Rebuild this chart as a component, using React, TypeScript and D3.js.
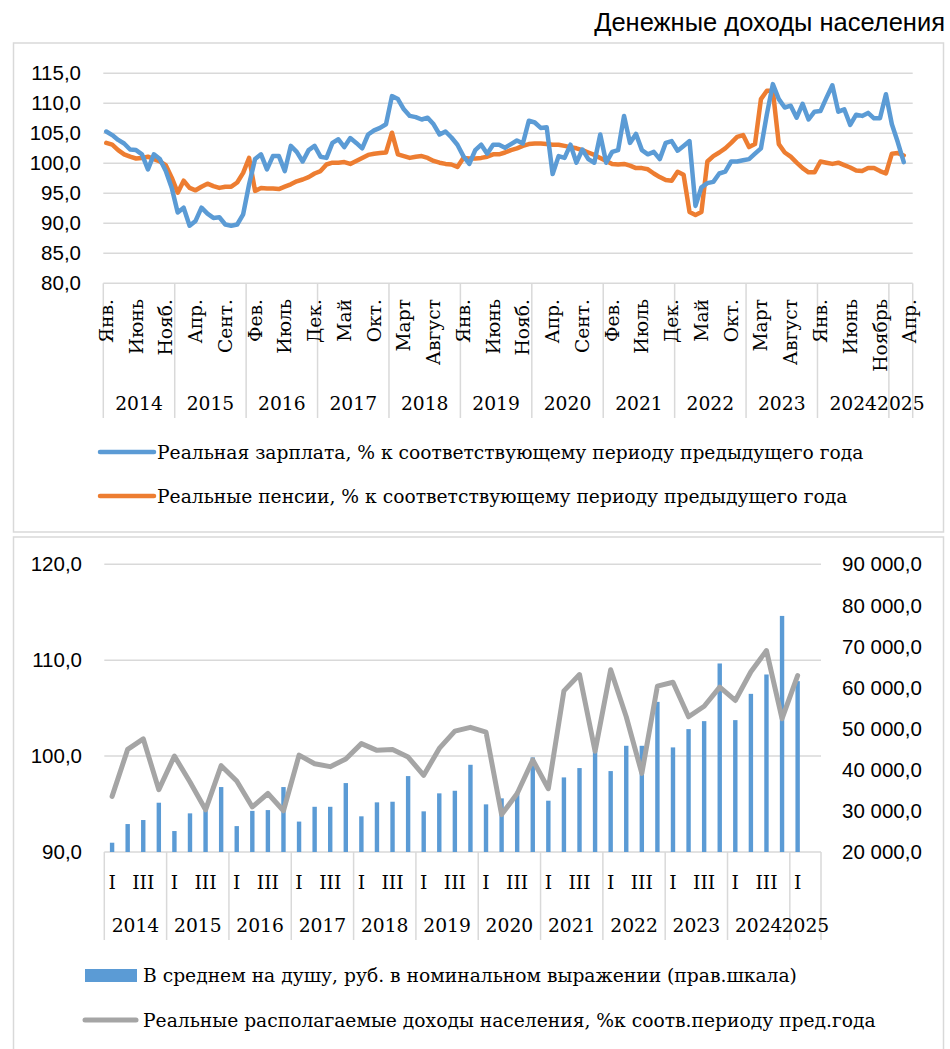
import React from 'react';
import * as d3 from 'd3';

// ---------- DATA ----------
const years = ['2014', '2015', '2016', '2017', '2018', '2019', '2020', '2021', '2022', '2023', '2024', '2025'];

// Monthly, Jan 2014 .. Mar 2025 (axis runs to Apr 2025)
const wage = [
  105.3, 104.7, 103.9, 103.3, 102.3, 102.2, 101.5, 99.0, 101.5, 100.7,
  98.7, 95.9, 91.8, 92.6, 89.6, 90.4, 92.6, 91.6, 90.9, 91.0,
  89.8, 89.6, 89.8, 91.5, 96.5, 100.7, 101.5, 99.0, 101.2, 101.2,
  98.7, 102.9, 101.9, 100.3, 102.2, 102.9, 101.1, 100.9, 103.4, 104.0,
  102.7, 104.2, 103.4, 102.5, 104.8, 105.5, 105.9, 106.5, 111.2, 110.7,
  109.0, 107.9, 107.7, 107.3, 107.6, 106.5, 104.8, 105.3, 104.3, 103.1,
  101.2, 99.9, 102.2, 103.1, 101.6, 103.1, 103.1, 102.6, 103.2, 103.8,
  103.3, 107.1, 106.8, 105.9, 106.0, 98.2, 101.2, 100.9, 103.1, 100.1,
  102.3, 100.7, 100.1, 104.8, 100.1, 101.9, 102.2, 107.9, 103.4, 104.9,
  102.2, 101.5, 101.9, 100.7, 103.4, 103.7, 102.1, 102.9, 103.7, 92.9,
  96.0, 96.7, 96.9, 98.3, 98.6, 100.3, 100.3, 100.5, 100.7, 101.6,
  102.5, 108.2, 113.2, 110.7, 109.3, 109.6, 107.6, 109.9, 107.3, 108.6,
  108.7, 110.9, 113.0, 108.6, 109.0, 106.4, 108.1, 107.9, 108.4, 107.5,
  107.5, 111.5, 106.5, 103.5, 100.2,
];

const pension = [
  103.4, 103.1, 102.2, 101.5, 101.1, 100.8, 100.9, 101.1, 100.7, 100.3,
  99.7, 97.6, 95.1, 97.1, 95.9, 95.5, 96.1, 96.6, 96.2, 95.9,
  96.1, 96.1, 96.8, 98.4, 100.9, 95.4, 95.9, 95.8, 95.8, 95.7,
  96.1, 96.5, 97.0, 97.3, 97.7, 98.3, 98.7, 99.8, 100.1, 100.1,
  100.2, 99.9, 100.4, 100.9, 101.4, 101.6, 101.7, 101.8, 105.1, 101.5,
  101.2, 100.9, 101.1, 101.2, 100.9, 100.4, 100.1, 99.9, 99.8, 99.4,
  100.9, 100.8, 100.8, 100.9, 101.1, 101.5, 101.5, 101.8, 102.2, 102.5,
  102.9, 103.2, 103.3, 103.3, 103.2, 103.1, 103.1, 102.9, 102.7, 102.5,
  102.2, 101.8, 101.4, 100.9, 100.4, 99.9, 99.8, 99.9, 99.6, 99.2,
  99.2, 99.0, 98.3, 97.7, 97.2, 97.1, 98.6, 98.1, 91.9, 91.4,
  91.9, 100.3, 101.2, 101.8, 102.5, 103.4, 104.4, 104.7, 102.7, 103.2,
  110.7, 112.1, 112.1, 103.2, 101.8, 101.1, 100.1, 99.2, 98.5, 98.5,
  100.3, 100.1, 99.9, 100.1, 99.7, 99.3, 98.8, 98.7, 99.2, 99.2,
  98.7, 98.3, 101.6, 101.7, 101.3,
];

// every 5th month label, starting Jan 2014
const monthTicks = [
  'Янв.', 'Июнь', 'Нояб.', 'Апр.', 'Сент.', 'Фев.', 'Июль', 'Дек.', 'Май', 'Окт.',
  'Март', 'Август', 'Янв.', 'Июнь', 'Нояб.', 'Апр.', 'Сент.', 'Фев.', 'Июль', 'Дек.',
  'Май', 'Окт.', 'Март', 'Август', 'Янв.', 'Июнь', 'Ноябрь', 'Апр.',
];

// Quarterly, Q1 2014 .. Q1 2025 (axis runs to Q2 2025)
const incomePerCapita = [
  22260, 26800, 27780, 31990,
  25100, 29400, 30000, 35800,
  26300, 30000, 30200, 35800,
  27400, 31000, 31000, 36770,
  28680, 32080, 32230, 38470,
  29890, 34270, 34900, 41220,
  31590, 33050, 34660, 43020,
  32480, 38150, 40420, 44500,
  39690, 45840, 45840, 56530,
  45450, 49900, 51840, 65870,
  52085, 58480, 63190, 77440,
  61570,
];

const realIncome = [
  95.8, 100.7, 101.8, 96.5,
  100.0, 97.3, 94.4, 99.0,
  97.4, 94.7, 96.1, 94.3,
  100.1, 99.2, 98.9, 99.7,
  101.3, 100.6, 100.7, 99.9,
  98.0, 100.8, 102.6, 103.0,
  102.5, 93.9, 96.1, 99.6,
  96.6, 106.8, 108.5, 100.5,
  109.0, 104.1, 98.2, 107.3,
  107.7, 104.1, 105.2, 107.2,
  105.8, 108.8, 111.0, 103.9,
  108.4,
];

const quarterNames = ['I', '', 'III', ''];
const leftTicks = [90, 100, 110, 120];
const rightTicks = [20000, 30000, 40000, 50000, 60000, 70000, 80000, 90000];
const topTicks = [80, 85, 90, 95, 100, 105, 110, 115];

const title = 'Денежные доходы населения';
const legendWage = 'Реальная зарплата, % к соответствующему периоду предыдущего года';
const legendPension = 'Реальные пенсии, % к соответствующему периоду предыдущего года';
const legendIncome = 'В среднем на душу, руб. в номинальном выражении (прав.шкала)';
const legendReal = 'Реальные располагаемые доходы населения, %к соотв.периоду пред.года';

// ---------- STYLE ----------
const BLUE = '#5B9BD5';
const ORANGE = '#ED7D31';
const GREY = '#A5A5A5';
const GRID = '#D9D9D9';
const SANS = 'Liberation Sans, Arial, sans-serif';
const SERIF = 'DejaVu Serif, serif';
const SERIF_SIZE = 18.7;
const SANS_SIZE = 20.5;

const ru = d3.formatLocale({ decimal: ',', thousands: '\u00a0', grouping: [3], currency: ['', ''] });
const fmt1 = ru.format('.1f');
const fmtK = ru.format(',.1f');

export default function App() {
  // top chart
  const nMonths = 136;
  const xM = d3.scaleBand<number>().domain(d3.range(nMonths)).range([103.3, 912.7]);
  const yT = d3.scaleLinear().domain([80, 115]).range([283.3, 73.3]);
  const mx = (i: number) => (xM(i) as number) + xM.bandwidth() / 2;
  const lineT = d3.line<number>().x((_, i) => mx(i)).y((d) => yT(d));
  const yearMonths = years.map((_, k) => (k < years.length - 1 ? 12 : 4));
  const yearStartM = yearMonths.map((_, k) => d3.sum(yearMonths.slice(0, k)));

  // bottom chart
  const nQ = 46;
  const xQ = d3.scaleBand<number>().domain(d3.range(nQ)).range([104.3, 821]);
  const yL = d3.scaleLinear().domain([90, 120]).range([852, 564.3]);
  const yR = d3.scaleLinear().domain([20000, 90000]).range([852, 564.3]);
  const qx = (i: number) => (xQ(i) as number) + xQ.bandwidth() / 2;
  const lineB = d3.line<number>().x((_, i) => qx(i)).y((d) => yL(d));
  const yearQ = years.map((_, k) => (k < years.length - 1 ? 4 : 2));
  const yearStartQ = yearQ.map((_, k) => d3.sum(yearQ.slice(0, k)));
  const barW = 4.4;

  const edgeM = (k: number) => (k >= nMonths ? 912.7 : (xM(k) as number));
  const edgeQ = (k: number) => (k >= nQ ? 821 : (xQ(k) as number));

  return (
    <svg width={950} height={1049} style={{ position: 'absolute', left: 0, top: 0, background: '#fff' }}>
      <rect x={0} y={0} width={950} height={1049} fill="#fff" />
      <text x={945} y={31} textAnchor="end" fontFamily={SANS} fontSize={25.5} fill="#000">{title}</text>

      {/* ---------- TOP PANEL ---------- */}
      <rect x={13.5} y={43} width={930} height={489} fill="none" stroke={GRID} strokeWidth={1.5} />
      {topTicks.map((t) => (
        <g key={'tt' + t}>
          <line x1={103.3} x2={912.7} y1={yT(t)} y2={yT(t)} stroke={GRID} strokeWidth={1.5} />
          <text x={81} y={yT(t)} dy="0.35em" textAnchor="end" fontFamily={SANS} fontSize={SANS_SIZE} fill="#000">{fmt1(t)}</text>
        </g>
      ))}
      {yearStartM.map((s, k) => (
        <line key={'ys' + k} x1={edgeM(s)} x2={edgeM(s)} y1={yT(80)} y2={418} stroke={GRID} strokeWidth={1.5} />
      ))}
      <line x1={912.7} x2={912.7} y1={yT(80)} y2={418} stroke={GRID} strokeWidth={1.5} />
      {monthTicks.map((m, k) => (
        <text key={'mt' + k} transform={`translate(${mx(k * 5)},299) rotate(-90)`} dy="0.35em" textAnchor="end"
          fontFamily={SERIF} fontSize={SERIF_SIZE} fill="#000">{m}</text>
      ))}
      {years.map((y, k) => (
        <text key={'yl' + k} x={(edgeM(yearStartM[k]) + edgeM(yearStartM[k] + yearMonths[k])) / 2} y={410}
          textAnchor="middle" fontFamily={SERIF} fontSize={SERIF_SIZE} fill="#000">{y}</text>
      ))}
      <path d={lineT(pension) || ''} fill="none" stroke={ORANGE} strokeWidth={4.5} strokeLinejoin="round" strokeLinecap="round" />
      <path d={lineT(wage) || ''} fill="none" stroke={BLUE} strokeWidth={4.5} strokeLinejoin="round" strokeLinecap="round" />

      <line x1={100} x2={154} y1={452} y2={452} stroke={BLUE} strokeWidth={4.5} strokeLinecap="round" />
      <text x={157} y={452} dy="0.35em" fontFamily={SERIF} fontSize={SERIF_SIZE} fill="#000">{legendWage}</text>
      <line x1={100} x2={154} y1={496} y2={496} stroke={ORANGE} strokeWidth={4.5} strokeLinecap="round" />
      <text x={157} y={496} dy="0.35em" fontFamily={SERIF} fontSize={SERIF_SIZE} fill="#000">{legendPension}</text>

      {/* ---------- BOTTOM PANEL ---------- */}
      <rect x={13.5} y={537} width={930} height={530} fill="none" stroke={GRID} strokeWidth={1.5} />
      {leftTicks.map((t) => (
        <g key={'lt' + t}>
          <line x1={104.3} x2={821} y1={yL(t)} y2={yL(t)} stroke={GRID} strokeWidth={1.5} />
          <text x={82} y={yL(t)} dy="0.35em" textAnchor="end" fontFamily={SANS} fontSize={SANS_SIZE} fill="#000">{fmt1(t)}</text>
        </g>
      ))}
      {rightTicks.map((t) => (
        <text key={'rt' + t} x={842} y={yR(t)} dy="0.35em" textAnchor="start" fontFamily={SANS} fontSize={SANS_SIZE} fill="#000">{fmtK(t)}</text>
      ))}
      {incomePerCapita.map((v, i) => (
        <rect key={'b' + i} x={qx(i) - barW / 2} y={yR(v)} width={barW} height={yR(20000) - yR(v)} fill={BLUE} />
      ))}
      {yearStartQ.map((s, k) => (
        <line key={'qs' + k} x1={edgeQ(s)} x2={edgeQ(s)} y1={852} y2={940} stroke={GRID} strokeWidth={1.5} />
      ))}
      <line x1={821} x2={821} y1={852} y2={940} stroke={GRID} strokeWidth={1.5} />
      {d3.range(nQ).map((i) => (
        quarterNames[i % 4] ? (
          <text key={'ql' + i} x={qx(i)} y={882} dy="0.35em" textAnchor="middle" fontFamily={SERIF} fontSize={SERIF_SIZE} fill="#000">{quarterNames[i % 4]}</text>
        ) : null
      ))}
      {years.map((y, k) => (
        <text key={'yq' + k} x={(edgeQ(yearStartQ[k]) + edgeQ(yearStartQ[k] + yearQ[k])) / 2} y={932}
          textAnchor="middle" fontFamily={SERIF} fontSize={SERIF_SIZE} fill="#000">{y}</text>
      ))}
      <path d={lineB(realIncome) || ''} fill="none" stroke={GREY} strokeWidth={5} strokeLinejoin="round" strokeLinecap="round" />

      <rect x={85} y={969} width={52} height={13} fill={BLUE} />
      <text x={143} y={975} dy="0.35em" fontFamily={SERIF} fontSize={SERIF_SIZE} fill="#000">{legendIncome}</text>
      <line x1={85} x2={136} y1={1020} y2={1020} stroke={GREY} strokeWidth={5} strokeLinecap="round" />
      <text x={143} y={1020} dy="0.35em" fontFamily={SERIF} fontSize={SERIF_SIZE} fill="#000">{legendReal}</text>
    </svg>
  );
}
